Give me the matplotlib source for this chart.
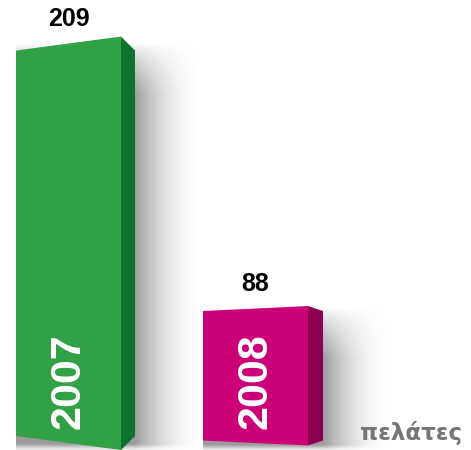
import numpy as np
import matplotlib.pyplot as plt
from matplotlib.patches import Polygon

years = ['2007', '2008']
customers = [209, 88]
unit_label = 'πελάτες'

front_colors = ['#32a047', '#cc0077']
side_colors = ['#11722e', '#8a0052']

# bar geometry, x in pixels
bar_left = [16, 203]
bar_width = 105
bar_depth = [14, 15]
tilt = [7, 2.5]          # perspective skew of the front face, px

W, H = 471, 450
floor_px = 443           # pixel row of the floor, counted from the top
floor_val = 26.6         # axis value at the floor
px_per_unit = 2.19

fig = plt.figure(figsize=(W / 100, H / 100), dpi=100)
ax = fig.add_axes([0, 0, 1, 1])
ax.set_xlim(0, W)
ax.set_ylim(floor_val - (H - floor_px) / px_per_unit,
            floor_val + floor_px / px_per_unit)
ax.axis('off')

B = floor_val
for i, v in enumerate(customers):
    x0 = bar_left[i]
    x1 = x0 + bar_width
    x2 = x1 + bar_depth[i]
    d = tilt[i] / px_per_unit

    # soft shadow to the right of the block
    sw = 70
    xs = np.linspace(x0, x2 + sw, 200)
    ys = np.linspace(B - 8 / px_per_unit, v, 200)
    X, Y = np.meshgrid(xs, ys)
    u = np.clip((X - x2) / sw, 0, 1)
    alpha = 0.6 * (1 - u) ** 2
    alpha *= np.clip((v - Y) * px_per_unit / 50, 0, 1) ** 0.7
    alpha *= np.clip((Y - (B - 8 / px_per_unit)) * px_per_unit / 6, 0.15, 1)
    img = np.zeros((200, 200, 4))
    img[..., :3] = 0.35
    img[..., 3] = alpha
    ax.imshow(img, extent=(x0, x2 + sw, ys[0], ys[-1]), origin='lower',
              aspect='auto', interpolation='bilinear', zorder=1)

    front = Polygon([(x0, B + d), (x1, B - d), (x1, v + d), (x0, v - d)],
                    closed=True, facecolor=front_colors[i], edgecolor='none',
                    zorder=3)
    side = Polygon([(x1, B - d), (x2, B + d), (x2, v - d), (x1, v + d)],
                   closed=True, facecolor=side_colors[i], edgecolor='none',
                   zorder=3)
    ax.add_patch(side)
    ax.add_patch(front)

    cx = (x0 + x1) / 2
    ax.annotate(str(v), xy=(cx, v), xytext=(0, 18), textcoords='offset points',
                ha='center', va='center', fontsize=18, fontweight='bold',
                family='Liberation Sans', color='black', zorder=4)
    ax.text(cx, B + 61.5 / px_per_unit, years[i], rotation=90,
            ha='center', va='center', fontsize=31, fontweight='bold',
            family='Liberation Sans', color='white', zorder=4)

ax.text(411, B + 3 / px_per_unit, unit_label, ha='center', va='baseline',
        fontsize=16.5, fontweight='bold', color='#767676', zorder=4)

fig.savefig('out.png', dpi=100)
